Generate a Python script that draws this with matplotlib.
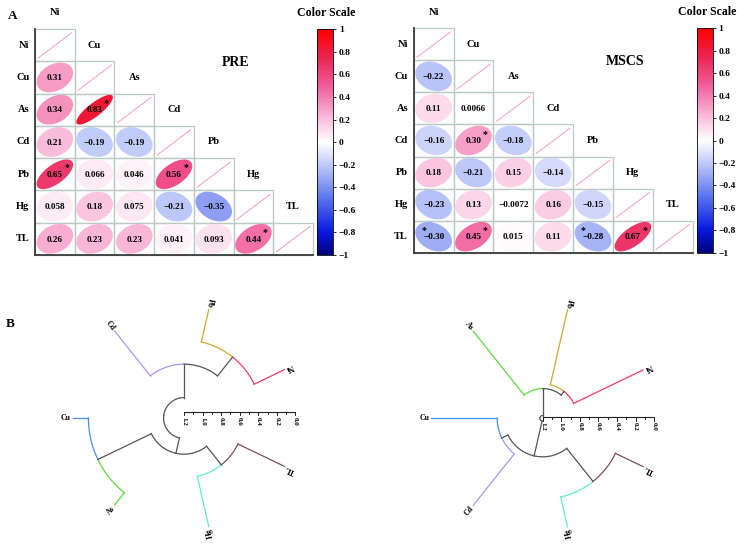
import numpy as np
import matplotlib
matplotlib.use("Agg")
import matplotlib.pyplot as plt
from matplotlib.colors import LinearSegmentedColormap, Normalize
from matplotlib.patches import Polygon, Rectangle
from matplotlib.cm import ScalarMappable

plt.rcParams["font.family"] = ["Liberation Serif", "DejaVu Serif"]
plt.rcParams["font.weight"] = "bold"

W, H = 744, 544

elements = ["Ni", "Cu", "As", "Cd", "Pb", "Hg", "TL"]

# lower triangle, row i holds columns 0..i-1
pre_corr = [
    [],
    [0.31],
    [0.34, 0.83],
    [0.21, -0.19, -0.19],
    [0.65, 0.066, 0.046, 0.56],
    [0.058, 0.18, 0.075, -0.21, -0.35],
    [0.26, 0.23, 0.23, 0.041, 0.093, 0.44],
]
pre_sig = [("As", "Cu"), ("Pb", "Ni"), ("Pb", "Cd"), ("TL", "Hg")]

mscs_corr = [
    [],
    [-0.22],
    [0.11, 0.0066],
    [-0.16, 0.30, -0.18],
    [0.18, -0.21, 0.15, -0.14],
    [-0.23, 0.13, -0.0072, 0.16, -0.15],
    [-0.30, 0.45, 0.015, 0.11, -0.28, 0.67],
]
mscs_sig = [("Cd", "Cu"), ("TL", "Ni"), ("TL", "Cu"), ("TL", "Pb"), ("TL", "Hg")]

cbar_ticks = [-1, -0.8, -0.6, -0.4, -0.2, 0, 0.2, 0.4, 0.6, 0.8, 1]

# circular dendrograms: leaf order counter-clockwise, merges (a, b, height)
pre_order = ["Ni", "Pb", "Cd", "Cu", "As", "Hg", "TL"]
pre_merges = [("Ni", "Pb", 0.36), ("Cd", "n1", 0.62), ("Cu", "As", 0.17),
              ("Hg", "TL", 0.555), ("n3", "n4", 0.81), ("n2", "n5", 0.98)]

mscs_order = ["Ni", "Pb", "As", "Cu", "Cd", "Hg", "TL"]
mscs_merges = [("Ni", "Pb", 0.83), ("As", "n1", 0.88), ("Cu", "Cd", 0.71),
               ("Hg", "TL", 0.33), ("n3", "n4", 0.785), ("n2", "n5", 1.17)]

leaf_colors = {"Ni": "#f03c66", "Pb": "#d8a432", "Cd": "#a898f0", "Cu": "#4a8ee6",
               "As": "#5cd83e", "Hg": "#5ef0c2", "TL": "#7a5252"}
gray = "#4f5656"
grid_col = "#b8c8c4"

cmap = LinearSegmentedColormap.from_list("cs", [
    (0.0, "#00007a"), (0.1, "#0818e0"), (0.25, "#5a74ee"), (0.375, "#b0bcf6"),
    (0.5, "#ffffff"), (0.625, "#f8b0d4"), (0.75, "#f05c9a"), (0.875, "#ea2450"),
    (1.0, "#ff0000")])
norm = Normalize(-1, 1)

fig = plt.figure(figsize=(W / 100, H / 100), dpi=100)


def px_axes(x0, y0, x1, y1):
    return fig.add_axes([x0 / W, 1 - y1 / H, (x1 - x0) / W, (y1 - y0) / H])


def fmt(v):
    return f"{v:#.2g}".replace("-", "\u2212")


def draw_corr(box, corr, sig, title, title_xy, cbox, cs_xy):
    n = len(elements)
    ax = px_axes(*box)
    ax.set_xlim(0, n)
    ax.set_ylim(n, 0)
    ax.axis("off")
    for i in range(n):
        for j in range(i + 1):
            ax.add_patch(Rectangle((j, i), 1, 1, fill=False, edgecolor=grid_col,
                                   lw=0.9, clip_on=False))
        ax.plot([i + 0.08, i + 0.92], [i + 0.9, i + 0.12], color="#f0a2b6", lw=0.7)
        ax.text(-0.14, i + 0.5, elements[i], ha="right", va="center", fontsize=7.5)
        ax.text(i + 0.5, i - 0.5, elements[i], ha="center", va="center", fontsize=7.5)
    k = np.linspace(0, 2 * np.pi, 120)
    for i in range(n):
        for j, r in enumerate(corr[i]):
            d = np.arccos(r) / 2
            ex = np.cos(k + d) / 2 * 0.92
            ey = np.cos(k - d) / 2 * 0.92
            ax.add_patch(Polygon(np.column_stack([j + 0.5 + ex, i + 0.5 - ey]),
                                 facecolor=cmap(norm(r)), edgecolor="none"))
            ax.text(j + 0.5, i + 0.52, fmt(r), ha="center", va="center", fontsize=6.6)
            if (elements[i], elements[j]) in sig:
                dx = 0.3 if r > 0 else -0.25
                ax.text(j + 0.5 + dx, i + 0.3, "*", ha="center", va="center", fontsize=7)
    ax.plot([0, 0], [0, n], color="#3a3a3a", lw=1.3, clip_on=False)
    ax.plot([0, n], [n, n], color="#3a3a3a", lw=1.3, clip_on=False)
    ax.text(title_xy[0], title_xy[1], title, ha="center", va="center", fontsize=10)

    cax = px_axes(*cbox)
    cb = fig.colorbar(ScalarMappable(norm=norm, cmap=cmap), cax=cax, ticks=cbar_ticks)
    cb.ax.set_yticklabels([f"{t:g}".replace("-", "\u2212") for t in cbar_ticks])
    cb.ax.tick_params(labelsize=6.8, length=2, width=0.6, pad=2)
    cb.outline.set_linewidth(0.6)
    fig.text(cs_xy[0] / W, 1 - cs_xy[1] / H, "Color Scale", ha="center",
             va="center", fontsize=8.6)


S = 92.8  # px per height unit


def draw_tree(center, order, merges, axis_off):
    cx, cy = center
    ax = px_axes(cx - 1.6 * S, cy - 1.6 * S, cx + 1.6 * S, cy + 1.35 * S)
    ax.set_xlim(-1.6, 1.6)
    ax.set_ylim(-1.35, 1.6)
    ax.axis("off")

    def ang(idx):
        return (2 * idx + 1) * np.pi / 7

    def rad(h):
        return 1.2 - h

    pos = {name: (float(i), 0.0) for i, name in enumerate(order)}
    for m, (a, b, h) in enumerate(merges, 1):
        mid = (pos[a][0] + pos[b][0]) / 2
        for child in (a, b):
            ic, hc = pos[child]
            col = leaf_colors.get(child, gray)
            t = ang(ic)
            ax.plot([rad(hc) * np.cos(t), rad(h) * np.cos(t)],
                    [rad(hc) * np.sin(t), rad(h) * np.sin(t)], color=col, lw=0.9)
            ts = np.linspace(ang(ic), ang(mid), 50)
            ax.plot(rad(h) * np.cos(ts), rad(h) * np.sin(ts), color=col, lw=0.9)
        pos[f"n{m}"] = (mid, h)

    for i, name in enumerate(order):
        t = ang(i)
        rr = rad(0) + 0.02
        ax.text(rr * np.cos(t), rr * np.sin(t), name, rotation=np.degrees(t) + 180,
                rotation_mode="anchor", ha="right", va="center", fontsize=5.6)

    y0 = axis_off / S
    ax.plot([0, 1.2], [y0, y0], color="#222222", lw=0.8)
    for q in range(13):
        h = 1.2 - q * 0.1
        x = rad(h)
        ln = 0.035 if q % 2 == 0 else 0.022
        ax.plot([x, x], [y0, y0 - ln], color="#222222", lw=0.7)
        if q % 2 == 0:
            ax.text(x, y0 - 0.05, f"{abs(h):.1f}", rotation=-90, ha="center",
                    va="top", fontsize=5)


draw_corr((35, 29, 313, 255), pre_corr, pre_sig, "PRE", (5.04, 1.05),
          (316.7, 29.3, 333.3, 255), (326, 13))
draw_corr((413.7, 28.3, 692.7, 252.7), mscs_corr, mscs_sig, "MSCS", (5.31, 1.04),
          (697, 28.3, 712.7, 252.7), (707.5, 12.3))

draw_tree((184, 418), pre_order, pre_merges, 6)
draw_tree((542.7, 418.3), mscs_order, mscs_merges, 1)

fig.text(13 / W, 1 - 16 / H, "A", ha="center", va="center", fontsize=9.5)
fig.text(10 / W, 1 - 324 / H, "B", ha="center", va="center", fontsize=9.5)

fig.savefig("out.png", dpi=100)
